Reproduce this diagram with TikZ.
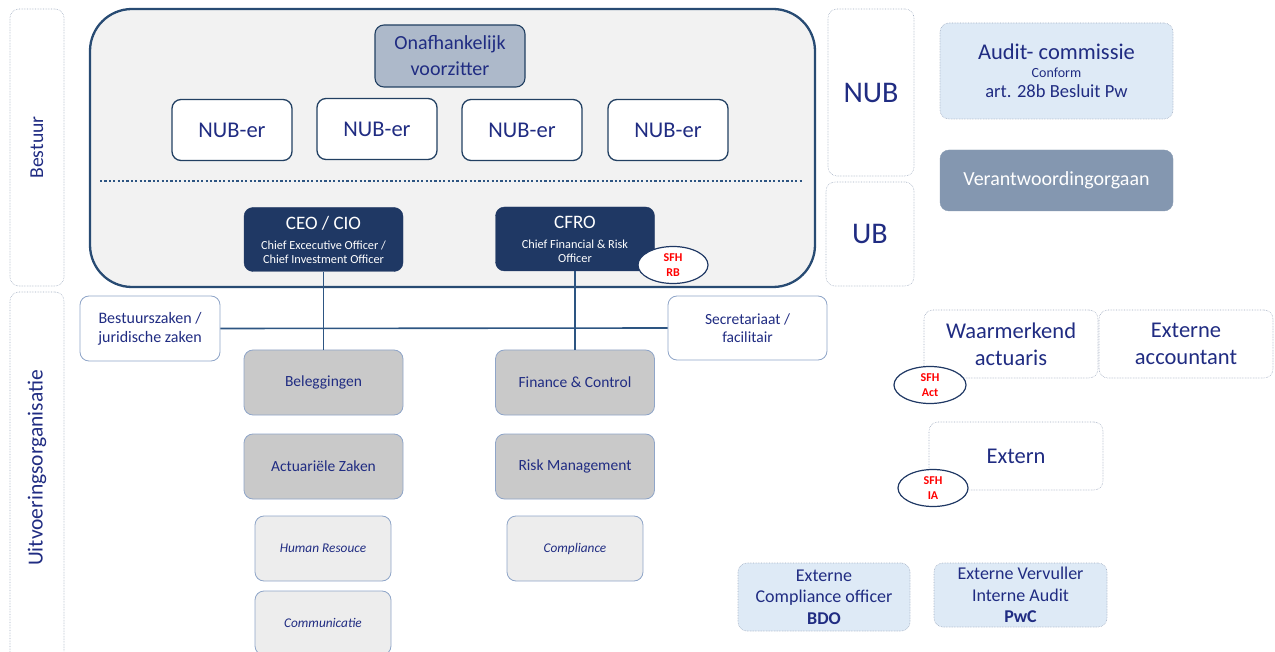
\documentclass[tikz,border=0pt]{standalone}
\usepackage{fontspec}
\setmainfont{Carlito}
\usetikzlibrary{shapes.geometric}
\definecolor{txtblue}{RGB}{32,44,130}
\definecolor{navy}{RGB}{31,56,100}
\definecolor{frameblue}{RGB}{40,75,115}
\definecolor{lightgray}{RGB}{242,242,242}
\definecolor{midgray}{RGB}{201,201,201}
\definecolor{palegray}{RGB}{237,237,237}
\definecolor{chairfill}{RGB}{173,185,202}
\definecolor{lightblue}{RGB}{222,234,246}
\definecolor{vofill}{RGB}{132,151,176}
\definecolor{softborder}{RGB}{143,165,200}
\definecolor{dotborder}{RGB}{160,172,192}
\definecolor{linecol}{RGB}{45,85,130}
\newcommand{\fs}[1]{\fontsize{#1}{\fpeval{1.2*#1}}\selectfont}
\tikzset{
  x=1pt, y=-1pt,
  base/.style={rounded corners=9pt, align=center, text=txtblue, inner sep=0pt},
  sidebox/.style={base, draw=dotborder, densely dotted, line width=0.6pt},
  nubbox/.style={base, draw=frameblue!85!black, line width=1.3pt, fill=white, minimum width=120pt, minimum height=61pt, font=\fs{22.5}},
  darkbox/.style={base, fill=navy, draw=navy, text=white, minimum width=159pt, minimum height=64pt, font=\fontsize{12.3}{14}\selectfont},
  deptbox/.style={base, fill=midgray, draw=softborder, line width=0.8pt, minimum width=159pt, minimum height=65pt, font=\fs{15.5}},
  subbox/.style={base, fill=palegray, draw=softborder, line width=0.8pt, minimum width=136pt, minimum height=65pt, font=\fs{13.3}\itshape},
  staffbox/.style={base, fill=white, draw=softborder, line width=0.8pt, minimum height=65pt, font=\fs{16}},
  extbox/.style={base, fill=white, draw=dotborder, densely dotted, line width=0.6pt, minimum width=174pt, minimum height=68pt, font=\fs{22.5}},
  bluebox/.style={base, fill=lightblue, draw=dotborder, densely dotted, line width=0.6pt},
  sfh/.style={ellipse, draw=navy, line width=1.2pt, fill=white, text=red, font=\fontsize{12}{15}\selectfont\bfseries, inner sep=0pt, minimum width=70pt, minimum height=37pt, align=center},
  conn/.style={draw=linecol, line width=1.6pt}
}
\begin{document}
\begin{tikzpicture}
\useasboundingbox (0,0) rectangle (1275,652);
% side label boxes
\node[sidebox, minimum width=54pt, minimum height=277pt] (bestuur) at (37,147.5) {};
\node[rotate=90, text=txtblue, font=\fs{19.7}] (bestuurlbl) at (bestuur.center) {Bestuur};
\node[sidebox, minimum width=54pt, minimum height=380pt] (uitv) at (37,482) {};
\node[rotate=90, text=txtblue, font=\fs{21.5}] (uitvlbl) at (37,468) {Uitvoeringsorganisatie};
% big board frame
\node[draw=frameblue, line width=2.3pt, fill=lightgray, rounded corners=42pt, minimum width=725pt, minimum height=278pt, inner sep=0pt] (board) at (452.5,148) {};
\node[base, fill=chairfill, draw=frameblue!85!black, line width=1.1pt, minimum width=150pt, minimum height=62pt, font=\fs{20}] (chair) at (450,56) {Onafhankelijk\\[2pt]voorzitter};
\node[nubbox] (n1) at (232,130) {NUB-er};
\node[nubbox] (n2) at (377,129) {NUB-er};
\node[nubbox] (n3) at (522,130) {NUB-er};
\node[nubbox] (n4) at (668,130) {NUB-er};
\coordinate (dl) at (100,181);
\coordinate (dr) at (803,181);
\draw[linecol, line width=2.2pt, dash pattern=on 2.2pt off 2.2pt] (dl) -- (dr);
\node[darkbox] (ceo) at (323.5,239.5) {\fs{19}CEO / CIO\\[6pt]Chief Excecutive Officer /\\Chief Investment Officer};
\node[darkbox] (cfro) at (575,239) {\fs{19}CFRO\\[6pt]Chief Financial \& Risk\\Officer};
\node[sfh] (sfhrb) at (673,265) {SFH\\RB};
% staff
\node[staffbox, minimum width=140pt] (bz) at (150,328.5) {Bestuurszaken /\\juridische zaken};
\node[staffbox, minimum width=159pt, minimum height=64pt, font=\fs{15.5}] (sec) at (747.5,328) {Secretariaat /\\facilitair};
% departments
\node[deptbox] (bel) at (323.5,382.5) {Beleggingen};
\node[deptbox] (act) at (323.5,466.5) {Actuariële Zaken};
\node[deptbox] (fin) at (575,382.5) {Finance \& Control};
\node[deptbox] (risk) at (575,466.5) {Risk Management};
\node[subbox] (hr) at (323,548.5) {Human Resouce};
\node[subbox, minimum height=64pt] (comm) at (323,623) {Communicatie};
\node[subbox] (comp) at (575,548.5) {Compliance};
% connectors
\draw[conn] (ceo.south) -- (bel.north);
\draw[conn] (cfro.south) -- (fin.north);
\draw[conn] (bz.east) -- (sec.west);
% NUB / UB
\node[sidebox, minimum width=86pt, minimum height=167pt, font=\fs{30}] (nub) at (871,92.5) {NUB};
\node[sidebox, minimum width=88pt, minimum height=104pt, font=\fs{30}] (ub) at (870,234) {UB};
% right column
\node[bluebox, minimum width=233pt, minimum height=96pt, font=\fontsize{14}{19}\selectfont] (audit) at (1056.5,71) {\fs{22.5}Audit- commissie\\[-1pt]Conform\\[1.5pt]\fs{18.5}art. 28b Besluit Pw};
\node[base, fill=vofill, draw=vofill, text=white, minimum width=233pt, minimum height=61pt, font=\fs{20}] (vo) at (1056.5,180.5) {Verantwoordingorgaan};
\node[extbox] (wa) at (1011,344) {Waarmerkend\\actuaris};
\node[extbox] (ea) at (1186,344) {Externe\\accountant};
\node[sfh, minimum width=72pt] (sfhact) at (930,385) {SFH\\Act};
\node[extbox] (ext) at (1016,456) {Extern};
\node[sfh] (sfhia) at (933,488) {SFH\\IA};
\node[bluebox, minimum width=172pt, minimum height=68pt, font=\fs{18}] (bdo) at (824,597) {Externe\\Compliance officer\\\textbf{BDO}};
\node[bluebox, minimum width=173pt, minimum height=64pt, font=\fs{18}] (pwc) at (1020.5,595) {Externe Vervuller\\Interne Audit\\\textbf{PwC}};
\end{tikzpicture}
\end{document}
